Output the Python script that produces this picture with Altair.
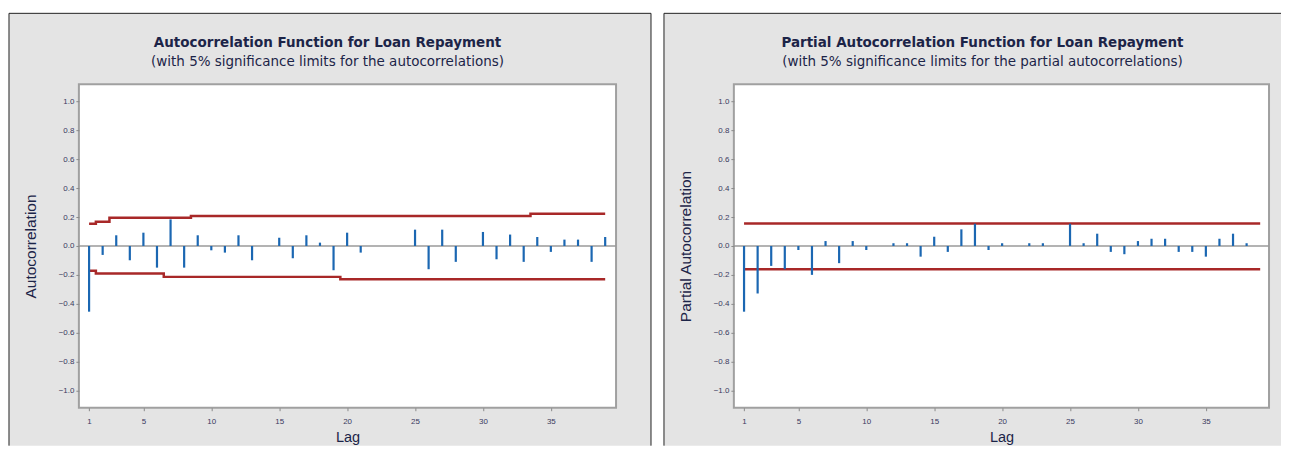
import altair as alt
import pandas as pd

# ---------------- data ----------------
acf_lags = [1, 2, 3, 4, 5, 6, 7, 8, 9, 10, 11, 12, 13, 14, 15, 16, 17, 18, 19, 20,
            21, 22, 23, 24, 25, 26, 27, 28, 29, 30, 31, 32, 33, 34, 35, 36, 37, 38, 39]
acf_vals = [-0.455, -0.062, 0.074, -0.099, 0.092, -0.150, 0.184, -0.150, 0.074, -0.030,
            -0.046, 0.074, -0.099, 0.000, 0.057, -0.085, 0.074, 0.023, -0.168, 0.092,
            -0.046, 0.000, 0.000, 0.000, 0.113, -0.161, 0.113, -0.110, 0.000, 0.097,
            -0.092, 0.079, -0.110, 0.062, -0.041, 0.044, 0.044, -0.110, 0.062]
acf_upper = [0.154, 0.168, 0.195, 0.195, 0.195, 0.195, 0.195, 0.195, 0.207, 0.207,
             0.207, 0.207, 0.207, 0.207, 0.207, 0.207, 0.207, 0.207, 0.207, 0.207,
             0.207, 0.207, 0.207, 0.207, 0.207, 0.207, 0.207, 0.207, 0.207, 0.207,
             0.207, 0.207, 0.207, 0.223, 0.223, 0.223, 0.223, 0.223, 0.223]
acf_lower = [-0.172, -0.191, -0.191, -0.191, -0.191, -0.191, -0.214, -0.214, -0.214, -0.214,
             -0.214, -0.214, -0.214, -0.214, -0.214, -0.214, -0.214, -0.214, -0.214, -0.230,
             -0.230, -0.230, -0.230, -0.230, -0.230, -0.230, -0.230, -0.230, -0.230, -0.230,
             -0.230, -0.230, -0.230, -0.230, -0.230, -0.230, -0.230, -0.230, -0.230]

pacf_lags = [1, 2, 3, 4, 5, 6, 7, 8, 9, 10, 11, 12, 13, 14, 15, 16, 17, 18, 19, 20,
             21, 22, 23, 24, 25, 26, 27, 28, 29, 30, 31, 32, 33, 34, 35, 36, 37, 38]
pacf_vals = [-0.455, -0.329, -0.138, -0.161, -0.028, -0.200, 0.034, -0.119, 0.034, -0.028,
             0.000, 0.019, 0.019, -0.074, 0.064, -0.041, 0.115, 0.154, -0.028, 0.019,
             0.000, 0.019, 0.019, 0.000, 0.154, 0.019, 0.085, -0.041, -0.057, 0.034,
             0.050, 0.050, -0.041, -0.041, -0.074, 0.050, 0.085, 0.019]
pacf_limit_lags = acf_lags
pacf_upper = [0.155] * 39
pacf_lower = [-0.161] * 39

titles = ["Autocorrelation Function for Loan Repayment",
          "Partial Autocorrelation Function for Loan Repayment"]
subtitles = ["(with 5% significance limits for the autocorrelations)",
             "(with 5% significance limits for the partial autocorrelations)"]
ytitles = ["Autocorrelation", "Partial Autocorrelation"]
x_ticks = [1, 5, 10, 15, 20, 25, 30, 35]
y_ticks = [-1.0, -0.8, -0.6, -0.4, -0.2, 0.0, 0.2, 0.4, 0.6, 0.8, 1.0]

FONT = "DejaVu Sans"
GREY = "#e4e4e4"
BLUE = "#1b67b2"
RED = "#a82828"
TXT = "#1c2448"
H = 324
GTOP = -71
GBOT = 362


def panel(lags, vals, lim_lags, up, lo, title, subtitle, ytitle, W, xmax, gx2, right_frame):
    one = pd.DataFrame({"z": [0]})
    bars = pd.DataFrame({"lag": lags, "v": vals, "z": [0] * len(lags)})
    lims = pd.DataFrame({"lag": lim_lags, "up": up, "lo": lo})

    xs = alt.Scale(domain=[0.25, xmax], nice=False, zero=False)
    ys = alt.Scale(domain=[-1.12, 1.12], nice=False, zero=False)
    xaxis = alt.Axis(values=x_ticks, title="Lag", tickSize=3, tickColor="#8a8a8a",
                     labelFontSize=8, labelColor="#3a3a60", labelPadding=7,
                     titleFontSize=14.5, titleFontWeight="normal", titleColor=TXT,
                     titlePadding=5, domain=False, grid=False, zindex=1)
    yaxis = alt.Axis(values=y_ticks, format=".1f", title=ytitle, tickSize=3,
                     tickColor="#8a8a8a", labelFontSize=8, labelColor="#3a3a60",
                     labelPadding=2, titleFontSize=15.5, titleFontWeight="normal",
                     titleColor=TXT, titlePadding=20, domain=False, grid=False, zindex=1)

    def X(f):
        return alt.X(f, type="quantitative", scale=xs, axis=xaxis)

    def Y(f):
        return alt.Y(f, type="quantitative", scale=ys, axis=yaxis)

    bg = alt.Chart(one).mark_rect(fill=GREY).encode(
        x=alt.value(-70), x2=alt.value(gx2), y=alt.value(GTOP), y2=alt.value(GBOT))
    f_left = alt.Chart(one).mark_rule(color="#222222", strokeWidth=1).encode(
        x=alt.value(-70), y=alt.value(GTOP), y2=alt.value(GBOT))
    f_top = alt.Chart(one).mark_rule(color="#222222", strokeWidth=1).encode(
        x=alt.value(-70), x2=alt.value(gx2), y=alt.value(GTOP))
    layers = [bg, f_left, f_top]
    if right_frame:
        layers.append(alt.Chart(one).mark_rule(color="#222222", strokeWidth=1).encode(
            x=alt.value(gx2), y=alt.value(GTOP), y2=alt.value(GBOT)))
    plot = alt.Chart(one).mark_rect(fill="white", stroke="#a0a0a0", strokeWidth=2).encode(
        x=alt.value(0), x2=alt.value(W), y=alt.value(0), y2=alt.value(H))
    zero = alt.Chart(one).mark_rule(color="#9a9a9a", strokeWidth=1.5).encode(y=Y("z"))
    upper = alt.Chart(lims).mark_line(interpolate="step", color=RED, strokeWidth=2.5).encode(
        x=X("lag"), y=Y("up"))
    lower = alt.Chart(lims).mark_line(interpolate="step", color=RED, strokeWidth=2.5).encode(
        x=X("lag"), y=Y("lo"))
    stems = alt.Chart(bars).mark_rule(color=BLUE, strokeWidth=2.2).encode(
        x=X("lag"), y=Y("v"), y2="z")
    t1 = alt.Chart(one).mark_text(font=FONT, fontSize=13.5, fontWeight="bold", color=TXT,
                                  align="center", baseline="middle").encode(
        x=alt.value(249), y=alt.value(-41), text=alt.value(title))
    t2 = alt.Chart(one).mark_text(font=FONT, fontSize=13.5, color=TXT,
                                  align="center", baseline="middle").encode(
        x=alt.value(249), y=alt.value(-22), text=alt.value(subtitle))
    layers += [plot, zero, upper, lower, stems, t1, t2]
    return alt.layer(*layers).properties(width=W, height=H)


left = panel(acf_lags, acf_vals, acf_lags, acf_upper, acf_lower,
             titles[0], subtitles[0], ytitles[0], 538, 39.8, 573, True)
right = panel(pacf_lags, pacf_vals, pacf_limit_lags, pacf_upper, pacf_lower,
              titles[1], subtitles[1], ytitles[1], 536, 39.65, 548, False)

chart = alt.hconcat(left, right, spacing=11).properties(
    padding={"left": 0, "top": 4, "right": 0, "bottom": 0}
).configure_view(stroke=None).configure_axis(
    labelFont=FONT, titleFont=FONT
).configure(background="white")

chart.save("out.html", embed_options={"renderer": "svg", "actions": False})
